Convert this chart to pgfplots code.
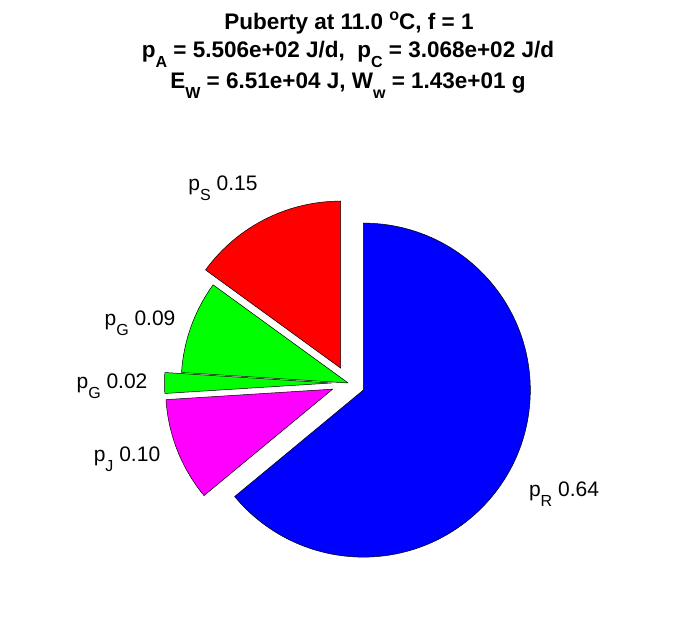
\documentclass[border=0pt]{standalone}
\usepackage{pgfplots}
\pgfplotsset{compat=1.18}
\usepackage{pgfplotstable}
\usepackage{fontspec}
\setmainfont{Liberation Sans}
\definecolor{mgreen}{rgb}{0,1,0}
\definecolor{mblue}{rgb}{0,0,1}
\definecolor{mred}{rgb}{1,0,0}
\definecolor{mmagenta}{rgb}{1,0,1}

% pie fractions, clockwise from 12 o'clock; explode flag
\pgfplotstableread{
frac col explode
0.64 mblue 1
0.10 mmagenta 1
0.02 mgreen 1
0.09 mgreen 0
0.15 mred 1
}\piedata

\newcommand{\lsub}[1]{\raisebox{-9.5pt}{\fontsize{16}{16}\selectfont #1}}
\newcommand{\tsub}[1]{\raisebox{-10pt}{\fontsize{16}{16}\selectfont\bfseries #1}}
\newcommand{\tsup}[1]{\raisebox{9pt}{\fontsize{16}{16}\selectfont\bfseries #1}}

\begin{document}
\begin{tikzpicture}
\path[use as bounding box] (0,0) rectangle (696pt,618pt);
\pgfplotstablegetrowsof{\piedata}
\pgfmathtruncatemacro\nrows{\pgfplotsretval-1}
\gdef\cum{90}
\foreach \i in {0,...,\nrows}{
  \pgfplotstablegetelem{\i}{frac}\of\piedata \let\pfrac\pgfplotsretval
  \pgfplotstablegetelem{\i}{col}\of\piedata \let\pcol\pgfplotsretval
  \pgfplotstablegetelem{\i}{explode}\of\piedata \let\pexp\pgfplotsretval
  \pgfmathsetmacro\aa{\cum}
  \pgfmathsetmacro\bb{\cum-360*\pfrac}
  \pgfmathsetmacro\mm{(\aa+\bb)/2}
  \pgfmathsetmacro\cx{348.2+\pexp*16.7*cos(\mm)}
  \pgfmathsetmacro\cy{235+\pexp*16.7*sin(\mm)}
  \expandafter\xdef\csname pA\i\endcsname{\aa}
  \expandafter\xdef\csname pB\i\endcsname{\bb}
  \expandafter\xdef\csname pX\i\endcsname{\cx}
  \expandafter\xdef\csname pY\i\endcsname{\cy}
  \expandafter\xdef\csname pC\i\endcsname{\pcol}
  \xdef\cum{\bb}
}
\begin{axis}[at={(0,0)}, anchor=south west, width=696pt, height=618pt,
  scale only axis, xmin=0, xmax=696, ymin=0, ymax=618, hide axis, clip=false]
\pgfplotsinvokeforeach{0,...,4}{
  \edef\tmp{\noexpand\draw[fill=\csname pC#1\endcsname, draw=black, line width=0.5pt, line join=round]
    (axis cs:\csname pX#1\endcsname,\csname pY#1\endcsname) -- ++(\csname pA#1\endcsname:167pt)
    arc[start angle=\csname pA#1\endcsname, end angle=\csname pB#1\endcsname, radius=167pt] -- cycle;}
  \tmp
}
\begin{scope}[every node/.style={inner sep=0pt, anchor=base, font=\fontsize{21}{24}\selectfont}]
\node at (axis cs:223,427) {p\lsub{S} 0.15};
\node at (axis cs:140,292) {p\lsub{G} 0.09};
\node at (axis cs:112,229) {p\lsub{G} 0.02};
\node at (axis cs:127,156) {p\lsub{J} 0.10};
\node at (axis cs:564,121) {p\lsub{R} 0.64};
\end{scope}
\begin{scope}[every node/.style={inner sep=0pt, anchor=base, font=\fontsize{22.5}{26}\selectfont\bfseries}]
\node at (axis cs:349,588) {Puberty at 11.0 \tsup{o}C, f = 1};
\node at (axis cs:348,560) {p\tsub{A} = 5.506e+02 J/d,\ \ p\tsub{C} = 3.068e+02 J/d};
\node at (axis cs:348,529) {E\tsub{W} = 6.51e+04 J, W\tsub{w} = 1.43e+01 g};
\end{scope}
\end{axis}
\end{tikzpicture}
\end{document}
